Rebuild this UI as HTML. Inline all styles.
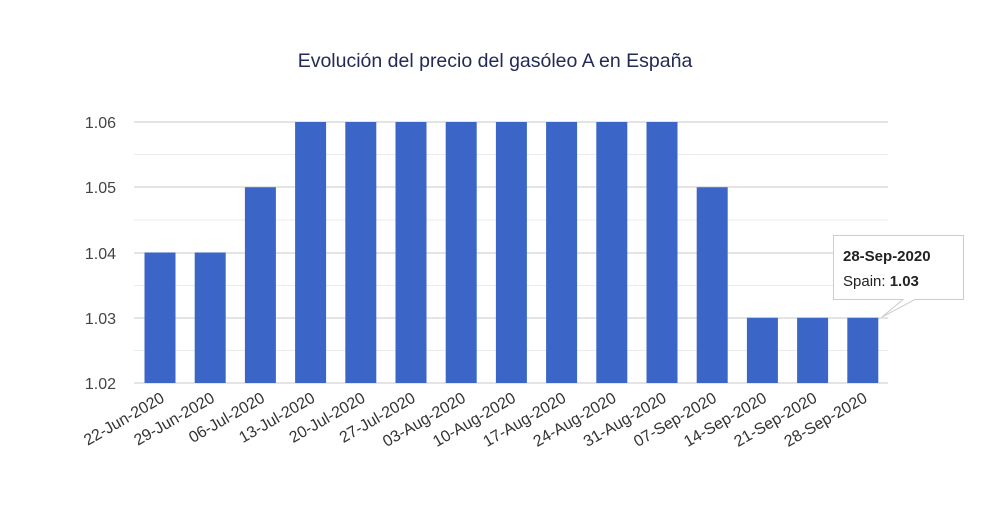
<!DOCTYPE html>
<html><head><meta charset="utf-8"><style>
body{margin:0;background:#fff;width:1000px;height:500px;overflow:hidden}
svg{font-family:"Liberation Sans",sans-serif}
</style></head><body>
<svg width="1000" height="500" xmlns="http://www.w3.org/2000/svg">
<text x="495" y="67" text-anchor="middle" font-size="19.5" fill="#222a55">Evolución del precio del gasóleo A en España</text>
<g stroke="#ebebeb" stroke-width="1">
<line x1="134" x2="888" y1="154.5" y2="154.5"/>
<line x1="134" x2="888" y1="220" y2="220"/>
<line x1="134" x2="888" y1="285.5" y2="285.5"/>
<line x1="134" x2="888" y1="350.5" y2="350.5"/>
</g>
<g stroke="#d4d4d4" stroke-width="1.2">
<line x1="134" x2="888" y1="122" y2="122"/>
<line x1="134" x2="888" y1="187" y2="187"/>
<line x1="134" x2="888" y1="253" y2="253"/>
<line x1="134" x2="888" y1="318" y2="318"/>
<line x1="134" x2="888" y1="383" y2="383"/>
</g>
<g font-size="16" fill="#444" text-anchor="end">
<text x="116" y="128">1.06</text>
<text x="116" y="193">1.05</text>
<text x="116" y="259">1.04</text>
<text x="116" y="324">1.03</text>
<text x="116" y="389">1.02</text>
</g>
<g fill="#3b66c8" id="bars"></g>
<g font-size="16" fill="#333" text-anchor="end" id="labels"></g>
<path d="M833.5 235.5 H963.5 V299.5 H915 L882 317 L903 299.5 H833.5 Z" fill="#fff" stroke="#ccc" stroke-width="1"/>
<text x="843" y="261" font-size="15" font-weight="bold" fill="#222">28-Sep-2020</text>
<text x="843" y="286" font-size="15" fill="#222">Spain: <tspan font-weight="bold">1.03</tspan></text>
</svg>
<script>
var v=[1.04,1.04,1.05,1.06,1.06,1.06,1.06,1.06,1.06,1.06,1.06,1.05,1.03,1.03,1.03];
var l=["22-Jun-2020","29-Jun-2020","06-Jul-2020","13-Jul-2020","20-Jul-2020","27-Jul-2020","03-Aug-2020","10-Aug-2020","17-Aug-2020","24-Aug-2020","31-Aug-2020","07-Sep-2020","14-Sep-2020","21-Sep-2020","28-Sep-2020"];
var b=document.getElementById('bars'),t=document.getElementById('labels'),ns="http://www.w3.org/2000/svg";
for(var i=0;i<15;i++){var x=144.5+50.2*i,y=383-(v[i]-1.02)*6525;
var r=document.createElementNS(ns,'rect');r.setAttribute('x',x);r.setAttribute('y',y);r.setAttribute('width',31);r.setAttribute('height',383-y);b.appendChild(r);
var s=document.createElementNS(ns,'text');var cx=x+21,cy=401;s.setAttribute('x',cx);s.setAttribute('y',cy);s.setAttribute('transform','rotate(-30 '+cx+' '+cy+')');s.textContent=l[i];t.appendChild(s);}
</script>
</body></html>
